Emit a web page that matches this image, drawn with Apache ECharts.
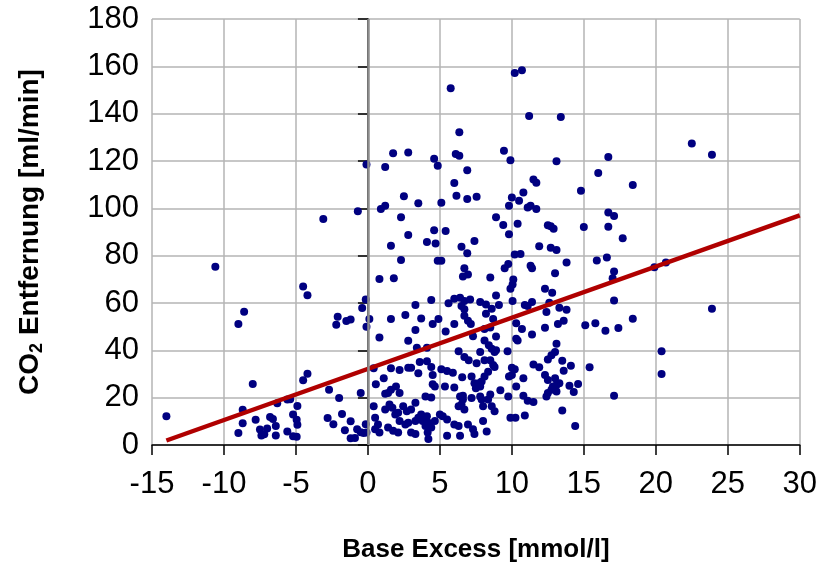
<!DOCTYPE html>
<html>
<head>
<meta charset="utf-8">
<script src="https://cdn.jsdelivr.net/npm/echarts@6/dist/echarts.min.js"></script>
<style>
  html, body { margin: 0; padding: 0; background: #fff; }
  #chart { width: 820px; height: 568px; }
</style>
</head>
<body>
<div id="chart"></div>
<script>
// Base Excess [mmol/l] vs CO2 Entfernung [ml/min]
var points = [
  [-10.6,75.3],[-14.0,12.1],[-8.6,56.3],[-9.0,51.1],[-4.5,67],[-4.2,63.3],[-8.0,25.8],[-8.7,14.9],[-8.7,9.2],[-9.0,5.1],
  [-7.8,10.7],[-7.5,6.5],[-7.2,4.5],[-7.0,7],[-7.4,4],[-6.8,11.8],[-6.6,11],[-6.4,8],[-6.4,4],[-6.3,17.6],
  [-5.6,19.2],[-5.4,19.3],[-5.6,5.7],[-5.2,3.7],[-4.95,3.5],[-5.2,12.9],[-4.95,10.7],[-4.9,8.6],[-4.9,16.5],[-4.5,27.4],
  [-4.2,30.1],[-2.7,23.3],[-2.0,19.9],[-2.8,11.4],[-2.4,8.8],[-1.8,13.1],[-1.6,6.2],[-1.2,10],[-1.2,2.9],[-0.9,3],
  [-0.75,6.7],[-0.5,5.4],[-0.3,5.1],[-0.15,8.8],[-0.5,22],[-2.1,54.2],[-2.2,50.8],[-1.5,52.4],[-1.2,53],[-0.4,57.9],
  [-0.15,61.5],[-0.1,50],[0.1,53.2],[-3.1,95.5],[-0.7,98.8],[-0.1,118.5],
  [3.3,48.6],[5.4,48],[0.8,45.4],[2.8,44],[3.4,41.1],[4.1,41.1],[7.3,46],[6.3,39.6],[6.7,37.2],[7.0,35.8],
  [0.4,32.4],[1.6,32.4],[2.2,31.7],[2.8,32.6],[3.0,32.6],[3.6,35.1],[4.1,35.4],[3.5,30.3],[4.4,33],[4.5,29.6],
  [5.1,32],[5.5,31.3],[5.9,30.5],[6.55,28.6],[7.2,28.9],[7.4,26.1],[7.5,24],[1.1,28.2],[0.55,25.7],[4.5,25.7],
  [4.65,24.7],[5.35,24.7],[6.0,24.3],[1.95,24.7],[1.6,23.3],[1.4,22],[1.2,21.7],[2.2,22],[4.0,20.5],[4.4,20.1],
  [6.6,20.8],[6.4,20.5],[6.6,19.2],[6.5,17.1],[6.3,16.4],[6.7,15],[7.2,19.9],[0.4,16.4],[1.5,17.1],[1.7,15.7],
  [1.2,15],[2.45,16.4],[2.7,14.3],[3.3,17.8],[3.0,15],[2.1,13.6],[1.9,12.9],[3.7,12.9],[4.1,12.2],[3.8,10.1],
  [4.2,9.4],[4.0,8],[4.4,7.4],[4.15,5.3],[4.2,2.5],[4.65,10.1],[5.0,12.9],[5.2,12.2],[5.5,10.8],[6.0,8.7],
  [6.3,8],[6.95,8.7],[7.3,6.7],[7.4,4.6],[5.5,3.9],[6.4,3.9],[0.5,11.5],[0.7,8.7],[0.8,5.3],[0.5,6.7],
  [-0.1,5.3],[1.4,7.4],[1.75,6],[2.1,5.3],[2.8,9.4],[2.6,8.7],[3.0,5.3],[3.3,4.6],[2.2,10.1],[3.3,10.1],[3.5,11.5],
  [8.1,49],[8.5,49.7],[10.7,49],[12.3,49.5],[15.1,50.6],[8.9,45.8],[10.3,44.9],[10.4,44.2],[11.4,46.7],[13.1,42.8],
  [8.1,44.2],[8.4,42.1],[8.6,40.7],[8.8,39.3],[8.9,40],[9.7,39.6],[7.8,39.3],[13.0,39.3],[12.75,37.9],[12.5,36.1],
  [13.5,35.6],[14.1,33.5],[13.6,31.4],[11.5,34],[11.9,32.8],[7.55,34.5],[8.1,35.8],[8.5,35.8],[8.7,33.8],[8.8,33],
  [10.0,32.6],[10.2,32],[9.8,28.9],[10.0,29.6],[8.35,31],[8.1,28.9],[7.9,26.8],[7.7,26.1],[7.8,24.7],[10.8,28.2],
  [10.3,24.7],[12.3,29.6],[12.5,27.5],[13.0,28.2],[13.3,26.1],[13.1,25.4],[12.85,24.7],[12.75,23.3],[14.0,25],[14.6,25.8],
  [14.3,22.4],[13.1,22.6],[9.2,23.1],[8.5,21.3],[8.35,19.2],[7.8,20.5],[7.9,19.2],[8.0,16.4],[9.75,20.5],[10.8,20.8],
  [11.1,18.75],[11.5,18.2],[12.4,20.5],[12.5,22],[8.6,16.4],[8.8,14.3],[13.5,14.6],[9.9,11.5],[10.25,11.5],[10.9,12.5],
  [8.0,10.1],[8.25,5.7],[14.4,8.0],
  [2.8,88.75],[4.6,90.7],[5.4,90.4],[4.1,85.8],[4.7,85.1],[1.6,84.2],[6.5,83.75],[6.9,81],[7.4,86.25],[2.3,78.2],
  [4.85,77.9],[5.1,77.9],[6.7,74.7],[6.6,71.25],[6.95,72],[0.8,70.1],[1.8,70.5],[4.4,61.25],[3.3,59.2],[5.6,59.9],
  [6.0,61.8],[6.4,62.2],[6.7,60.8],[7.1,61.5],[6.5,58.75],[6.7,57.4],[6.7,54.6],[6.95,52.5],[7.15,51.1],[7.8,60.4],
  [1.6,53.2],[2.6,54.9],[3.7,53.5],[4.9,53.2],[4.5,51.1],[6.0,51.1],
  [9.8,89],[11.9,84],[12.7,83.3],[13.1,82.4],[10.2,80.5],[10.6,80.7],[13.8,77.1],[9.5,74.7],[9.75,76.5],[11.3,75.7],
  [11.4,74.7],[13.0,72.6],[8.5,70.8],[10.1,69.9],[10.05,67.8],[9.9,66],[12.3,66],[12.8,64.3],[8.9,63.2],[8.2,59.4],
  [8.6,57.6],[8.2,55.5],[9.1,59.2],[10.05,60.8],[10.9,59.2],[11.1,58.75],[11.4,60.4],[12.6,60.1],[12.4,56.25],[13.3,58],
  [13.8,57.1],[13.6,52.5],[13.2,51.1],[10.3,51.4],[8.7,53.2],
  [6.35,132.1],[1.75,123.3],[2.8,123.6],[1.2,117.5],[4.6,121],[4.85,118],[6.1,123],[6.35,122.2],[6.9,116.1],[9.45,124.3],
  [9.9,120.3],[13.1,119.9],[6.0,110.7],[11.5,112.2],[11.7,110.8],[14.8,107.4],[2.5,105.1],[6.15,105.3],[6.9,103.9],[7.55,104.9],
  [3.5,102.2],[5.1,102.4],[0.9,99.7],[1.2,101.1],[2.3,96.25],[10.0,104.6],[10.8,106.7],[10.5,103.2],[9.8,101.1],[11.1,100.4],
  [11.3,101.1],[11.7,99.7],[8.9,96.25],[9.4,93],[10.4,93.5],[12.5,92.8],[12.7,92.4],[12.9,91.4],[15.0,92.1],
  [10.2,157.2],[10.7,158.3],[5.75,150.7],[11.2,139],[13.4,138.6],
  [22.5,127.4],[23.9,122.6],[16.7,121.7],[16.0,114.9],[18.4,109.9],[16.7,98.2],[17.1,96.8],[16.7,92.2],[17.7,87.4],
  [15.9,78],[16.6,79.2],[17.1,73.3],[17.0,70.5],[19.9,75.1],[20.7,77.1],[17.1,61.1],[23.9,57.6],[15.8,51.4],[16.5,48.3],
  [17.4,49.4],[18.4,53.3],[20.4,39.6],[20.4,30],[15.4,32.8],[17.1,20.8]
];

// Regressionsgerade (Endpunkte)
var fitLine = [[-14, 1.9], [30, 97]];

var xMin = -15, xMax = 30, xStep = 5;
var yMin = 0, yMax = 180, yStep = 20;

var chart = echarts.init(document.getElementById('chart'));

var option = {
  animation: false,
  grid: { left: 152, right: 20, top: 19, bottom: 117, containLabel: false },
  xAxis: {
    type: 'value',
    min: xMin, max: xMax, interval: xStep,
    name: 'Base Excess [mmol/l]',
    nameLocation: 'middle',
    nameGap: 92,
    nameTextStyle: { fontFamily: 'Liberation Sans', fontWeight: 'bold', fontSize: 26, color: '#000' },
    axisLine: { show: true, onZero: false, lineStyle: { color: '#000', width: 1.5 } },
    axisTick: { show: true, length: 10, lineStyle: { color: '#000', width: 1.5 } },
    axisLabel: { fontFamily: 'Liberation Sans', fontSize: 31, color: '#000', margin: 24 },
    splitLine: { show: true, lineStyle: { color: '#b4b4b4', width: 1.5 } }
  },
  yAxis: {
    type: 'value',
    min: yMin, max: yMax, interval: yStep,
    name: '{a|CO}{s|2}{a| Entfernung [ml/min]}',
    nameLocation: 'middle',
    nameGap: 106,
    nameRotate: 90,
    nameTextStyle: {
      rich: {
        a: { fontFamily: 'Liberation Sans', fontWeight: 'bold', fontSize: 28, color: '#000', lineHeight: 32 },
        s: { fontFamily: 'Liberation Sans', fontWeight: 'bold', fontSize: 18, color: '#000', lineHeight: 32, padding: [14, 0, 0, 0] }
      }
    },
    axisLine: { show: true, lineStyle: { color: '#000', width: 1.5 } },
    axisTick: { show: true, length: 10, lineStyle: { color: '#000', width: 1.5 } },
    axisLabel: { fontFamily: 'Liberation Sans', fontSize: 31, color: '#000', margin: 13 },
    splitLine: { show: true, lineStyle: { color: '#b4b4b4', width: 1.5 } }
  },
  series: [
    {
      type: 'scatter',
      data: points,
      symbol: 'circle',
      symbolSize: 8,
      itemStyle: { color: '#000080', opacity: 1 },
      markLine: {
        silent: true,
        symbol: 'none',
        label: { show: false },
        lineStyle: { color: '#8c8c8c', width: 2.5, type: 'solid' },
        data: [{ xAxis: 0 }]
      },
      z: 3
    },
    {
      type: 'line',
      data: fitLine,
      symbol: 'none',
      lineStyle: { color: '#b00000', width: 4.5 },
      z: 4
    }
  ]
};
chart.setOption(option);
</script>
</body>
</html>
